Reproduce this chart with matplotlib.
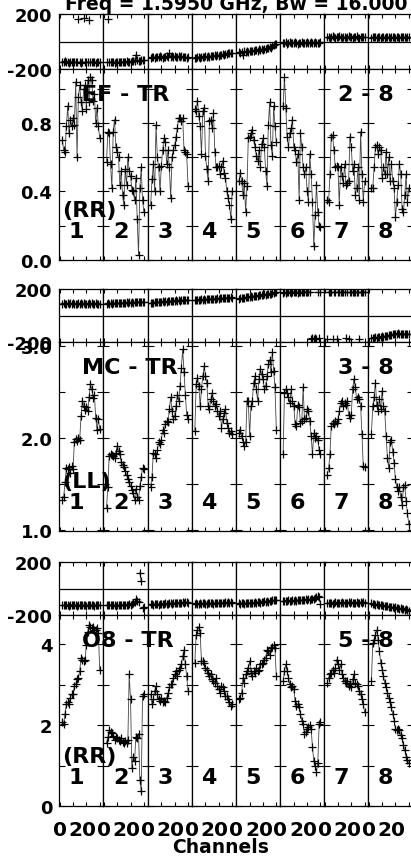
import numpy as np
import matplotlib.pyplot as plt
import matplotlib.transforms as mtransforms

plt.rcParams['font.family'] = 'DejaVu Sans'
plt.rcParams['font.weight'] = 'bold'

# channels plotted in every IF
chan = np.arange(2, 31)

# EF - TR (RR)
amp_ef = [
    [0.70, 0.64, 0.63, 0.78, 0.90, 0.74, 0.82, 0.78, 0.83, 0.79, 1.04, 0.60, 0.95, 1.02, 0.92, 0.87, 1.00, 1.02, 0.88, 1.05, 0.92, 1.07, 1.05, 0.93, 0.97, 0.80, 0.89, 0.78, 0.71],
    [0.57, 0.75, 0.74, 0.56, 0.42, 0.75, 0.82, 0.66, 0.63, 0.60, 0.44, 0.52, 0.38, 0.32, 0.53, 0.44, 0.60, 0.52, 0.49, 0.41, 0.40, 0.35, 0.48, 0.24, 0.03, 0.42, 0.54, 0.35, 0.28],
    [0.32, 0.47, 0.56, 0.40, 0.79, 0.60, 0.54, 0.40, 0.55, 0.64, 0.71, 0.69, 0.56, 0.64, 0.54, 0.36, 0.60, 0.64, 0.67, 0.72, 0.77, 0.83, 0.83, 0.81, 0.83, 0.64, 0.63, 0.62, 0.43],
    [0.88, 0.87, 0.93, 0.84, 0.78, 0.62, 0.87, 0.89, 0.61, 0.53, 0.46, 0.81, 0.82, 0.77, 0.86, 0.63, 0.54, 0.54, 0.55, 0.50, 0.54, 0.58, 0.51, 0.48, 0.40, 0.36, 0.32, 0.24, 0.40],
    [0.46, 0.51, 0.46, 0.38, 0.45, 0.28, 0.43, 0.71, 0.72, 0.74, 0.76, 0.70, 0.66, 0.61, 0.58, 0.64, 0.54, 0.68, 0.71, 0.66, 0.52, 0.43, 0.79, 0.92, 0.67, 0.61, 0.90, 0.78, 0.69],
    [0.90, 1.07, 0.89, 0.72, 0.66, 0.74, 0.77, 0.82, 0.66, 0.64, 0.57, 0.62, 0.35, 0.74, 0.66, 0.54, 0.50, 0.54, 0.40, 0.34, 0.62, 0.50, 0.34, 0.08, 0.26, 0.44, 0.28, 0.20, 0.19],
    [0.35, 0.34, 0.50, 0.72, 0.73, 0.64, 0.54, 0.55, 0.54, 0.32, 0.54, 0.49, 0.45, 0.56, 0.44, 0.45, 0.46, 0.72, 0.66, 0.52, 0.56, 0.38, 0.42, 0.54, 0.35, 0.75, 0.50, 0.34, 0.46],
    [0.42, 0.42, 0.54, 0.66, 0.67, 0.62, 0.66, 0.64, 0.48, 0.54, 0.50, 0.63, 0.50, 0.60, 0.46, 0.56, 0.46, 0.42, 0.25, 0.34, 0.44, 0.56, 0.50, 0.30, 0.28, 0.38, 0.50, 0.34, 0.42],
]
ph_ef = [
    [-148, -152, -145, -150, -147, -155, -150, -146, -152, -149, -151, -150, 164, -148, -153, -150, 168, -147, -151, -149, 160, -152, -148, -150, -146, -153, -150, -148, -151],
    [-150, 162, -148, -152, -147, -150, -153, -149, -146, -151, -150, -148, -152, -147, -150, -145, -149, -146, -148, -143, -145, -140, -95, -138, -142, -140, -135, -138, -132],
    [-118, -115, -112, -120, -110, -114, -116, -108, -112, -118, -110, -113, -106, -112, -82, -110, -108, -115, -104, -112, -110, -106, -114, -108, -112, -110, -115, -118, -112],
    [-118, -120, -115, -112, -118, -110, -114, -112, -108, -112, -105, -110, -106, -104, -108, -100, -102, -98, -104, -95, -98, -92, -95, -88, -90, -85, -82, -84, -80],
    [-78, -82, -75, -95, -72, -76, -70, -74, -68, -72, -66, -70, -64, -60, -66, -58, -62, -55, -60, -52, -56, -48, -50, -40, -44, -35, -28, -20, -15],
    [-8, -12, -5, -15, -10, -6, -14, -9, -12, -4, -10, -16, -8, -12, -6, -10, -14, -8, -5, -12, -10, -7, -13, -9, -4, -11, -8, -12, -6],
    [30, 36, 28, 34, 38, 32, 26, 35, 30, 40, 33, 29, 36, 31, 27, 34, 38, 30, 33, 28, 35, 31, 37, 29, 26, 33, 30, 35, 32],
    [28, 33, 35, 30, 26, 32, 36, 29, 31, 34, 27, 30, 35, 32, 28, 33, 30, 36, 29, 31, 34, 28, 32, 30, 35, 31, 27, 33, 30],
]

# MC - TR (LL)
amp_mc = [
    [1.33, 1.36, 1.52, 1.67, 1.66, 1.68, 1.62, 1.69, 1.66, 1.96, 1.99, 1.97, 2.00, 1.98, 2.24, 2.40, 2.35, 2.30, 2.33, 2.29, 2.44, 2.58, 2.53, 2.43, 2.47, 2.22, 2.09, 2.20, 2.10],
    [1.24, 1.47, 1.80, 1.83, 1.81, 1.80, 1.78, 1.84, 1.91, 1.86, 1.82, 1.74, 1.71, 1.68, 1.64, 1.60, 1.55, 1.52, 1.48, 1.44, 1.40, 1.33, 1.45, 1.36, 1.33, 1.48, 1.58, 1.67, 1.66],
    [1.47, 1.58, 1.84, 1.82, 1.78, 1.87, 1.95, 1.93, 1.98, 2.09, 2.05, 2.15, 2.18, 2.17, 2.31, 2.44, 2.29, 2.20, 2.24, 2.35, 2.47, 2.40, 2.56, 2.76, 2.96, 2.71, 2.47, 2.25, 2.20],
    [2.07, 2.58, 2.65, 2.56, 2.35, 2.53, 2.67, 2.78, 2.67, 2.60, 2.35, 2.31, 2.42, 2.49, 2.40, 2.35, 2.37, 2.29, 2.24, 2.29, 2.11, 2.20, 2.27, 2.31, 2.16, 2.11, 2.05, 2.07, 2.04],
    [2.05, 2.09, 2.02, 1.96, 1.91, 1.95, 2.40, 2.40, 2.02, 2.35, 2.40, 2.60, 2.67, 2.53, 2.40, 2.64, 2.75, 2.69, 2.64, 2.53, 2.56, 2.67, 2.80, 2.85, 2.71, 2.93, 2.73, 2.55, 2.09],
    [1.82, 2.49, 2.53, 2.49, 2.44, 2.38, 2.53, 2.40, 2.35, 2.15, 2.13, 2.36, 2.33, 2.16, 2.18, 2.55, 2.20, 2.22, 2.31, 2.29, 2.18, 2.02, 1.82, 2.05, 2.00, 2.02, 1.98, 1.87, 1.82],
    [1.60, 1.67, 1.82, 2.13, 2.16, 2.15, 2.18, 2.16, 2.20, 2.29, 2.38, 2.40, 2.35, 2.38, 2.36, 2.40, 2.25, 2.22, 2.25, 2.53, 2.64, 2.55, 2.42, 2.44, 2.42, 2.35, 2.04, 1.69, 1.68],
    [2.04, 2.35, 2.44, 2.60, 2.36, 2.29, 2.42, 2.31, 2.51, 2.35, 2.29, 2.02, 1.78, 1.67, 1.95, 1.98, 1.85, 1.73, 1.55, 1.47, 1.42, 1.47, 1.36, 1.27, 1.47, 1.49, 1.31, 1.18, 1.07],
]
ph_mc = [
    [88, 92, 85, 90, 94, 87, 91, 86, 93, 89, 90, 84, 92, 88, 91, 87, 95, 89, 86, 90, 93, 88, 91, 85, 89, 92, 87, 90, 88],
    [88, 92, 90, 94, 89, 93, 91, 95, 92, 96, 93, 97, 94, 98, 95, 99, 96, 100, 97, 101, 98, 102, 99, 100, 103, 101, 104, 100, 102],
    [95, 98, 96, 100, 99, 103, 101, 104, 102, 106, 105, 108, 104, 109, 107, 110, 108, 112, 111, 114, 110, 115, 113, 117, 114, 118, 116, 119, 117],
    [114, 118, 116, 120, 117, 121, 119, 123, 120, 124, 122, 126, 123, 127, 125, 128, 126, 130, 127, 131, 129, 132, 130, 134, 131, 135, 133, 136, 134],
    [128, 132, 130, 135, 133, 138, 136, 141, 139, 144, 142, 147, 145, 150, 148, 153, 151, 156, 154, 159, 157, 162, 160, 165, 163, 168, 170, 174, 176],
    [172, 175, 170, 177, 174, 178, 173, 176, 179, 175, 177, 172, 176, 178, 174, 177, 175, 179, 176, 178, 177, -176, -172, -175, -170, -174, 178, -172, 176],
    [-176, 178, 176, 179, -174, 177, 180, -178, 179, 177, 176, 178, 179, 177, -173, 178, -175, 176, 179, 177, 178, 175, 176, 179, -177, 177, 178, 176, 179],
    [-172, -168, -170, -165, -167, -162, -164, -160, -158, -161, -156, -153, -155, -150, -148, -145, -142, -140, -137, -139, -135, -138, -140, -136, -142, -139, -141, -138, -140],
]

# O8 - TR (RR)
amp_o8 = [
    [2.07, 2.03, 2.28, 2.52, 2.56, 2.52, 2.68, 2.76, 2.76, 2.97, 3.01, 3.13, 3.17, 3.33, 3.66, 3.62, 3.58, 3.62, 3.98, 4.31, 4.47, 4.43, 4.39, 4.43, 4.35, 4.35, 4.39, 4.27, 3.37],
    [1.55, 1.71, 1.87, 1.84, 1.80, 1.72, 1.63, 1.71, 1.67, 1.63, 1.60, 1.67, 1.59, 1.55, 1.60, 1.56, 1.62, 3.25, 2.64, 0.93, 1.22, 1.10, 1.71, 1.67, 1.79, 0.65, 0.37, 2.72, 2.76],
    [2.76, 2.52, 2.64, 2.85, 2.97, 2.76, 2.64, 2.60, 2.68, 2.56, 2.60, 2.56, 2.68, 2.80, 2.93, 3.01, 3.01, 3.17, 3.25, 3.33, 3.21, 3.37, 3.41, 3.50, 3.70, 3.86, 3.50, 3.21, 2.85],
    [3.54, 4.23, 4.35, 4.43, 4.27, 3.58, 3.58, 3.54, 3.41, 3.37, 3.29, 3.21, 3.25, 3.13, 3.09, 3.05, 3.17, 2.97, 2.89, 2.80, 2.97, 2.93, 2.85, 2.72, 2.72, 2.64, 2.56, 2.48, 2.52],
    [2.64, 2.68, 2.80, 3.17, 3.05, 3.25, 3.33, 3.41, 3.58, 3.29, 3.21, 3.33, 3.29, 3.41, 3.33, 3.37, 3.50, 3.50, 3.54, 3.62, 3.66, 3.86, 3.82, 3.74, 3.90, 3.94, 3.98, 3.90, 3.21],
    [3.09, 3.33, 3.50, 3.33, 3.17, 3.01, 2.93, 2.97, 2.89, 2.60, 2.48, 2.52, 2.44, 2.28, 2.11, 2.03, 1.79, 1.83, 1.91, 1.95, 1.99, 1.91, 1.46, 1.10, 0.98, 0.85, 1.06, 2.03, 2.07],
    [3.05, 3.17, 3.25, 3.29, 3.37, 3.29, 3.41, 3.62, 3.50, 3.37, 3.50, 3.25, 3.17, 3.09, 3.05, 3.09, 2.97, 3.01, 2.93, 3.13, 3.25, 3.05, 3.01, 2.97, 2.85, 2.76, 2.64, 2.52, 2.32],
    [3.09, 4.02, 4.10, 4.23, 4.35, 4.10, 3.82, 3.54, 3.37, 3.21, 3.05, 2.93, 2.80, 2.68, 2.56, 2.44, 2.28, 2.11, 1.91, 1.87, 1.91, 1.87, 1.75, 1.67, 1.50, 1.38, 1.22, 1.14, 1.06],
]
ph_o8 = [
    [-125, -128, -122, -127, -124, -130, -126, -121, -128, -125, -123, -129, -126, -124, -127, -122, -128, -125, -130, -124, -126, -123, -127, -125, -129, -122, -126, -128, -124],
    [-126, -124, -128, -125, -127, -123, -126, -129, -124, -127, -125, -122, -126, -128, -124, -121, -125, -118, -122, -115, -110, -100, -83, -95, -105, 120, 53, -150, -140],
    [-120, -118, -122, -116, -119, -115, -121, -117, -114, -118, -116, -112, -115, -119, -113, -110, -114, -111, -108, -112, -109, -106, -110, -107, -104, -108, -105, -102, -106],
    [-115, -112, -118, -114, -111, -116, -113, -110, -114, -117, -112, -109, -113, -110, -115, -111, -108, -112, -109, -106, -110, -107, -111, -105, -108, -104, -107, -103, -106],
    [-110, -114, -108, -112, -116, -111, -107, -113, -109, -112, -106, -110, -104, -108, -105, -102, -106, -100, -103, -98, -101, -96, -99, -94, -92, -88, -90, -85, -87],
    [-96, -92, -98, -94, -90, -95, -91, -88, -93, -89, -92, -87, -90, -86, -89, -84, -88, -83, -86, -80, -84, -78, -82, -76, -72, -65, -58, -62, -120],
    [-108, -112, -106, -110, -114, -109, -105, -111, -107, -113, -108, -104, -110, -106, -112, -107, -103, -109, -105, -111, -106, -108, -104, -110, -107, -103, -109, -105, -108],
    [-112, -118, -115, -121, -119, -125, -122, -128, -126, -131, -129, -135, -133, -138, -136, -142, -140, -145, -143, -149, -147, -152, -150, -156, -154, -160, -158, -164, -168],
]

baselines = ['EF - TR', 'MC - TR', 'O8 - TR']
pols = ['(RR)', '(LL)', '(RR)']
sources = ['2 - 8', '3 - 8', '5 - 8']
amps = [amp_ef, amp_mc, amp_o8]
phases = [ph_ef, ph_mc, ph_o8]
amp_lims = [(0, 1.115), (0.99, 3.04), (0, 4.72)]
amp_ticks = [np.arange(0, 1.01, 0.2), np.arange(1.0, 3.01, 0.5), np.arange(0, 4.1, 1)]
amp_labels = [{0.0: '0.0', 0.4: '0.4', 0.8: '0.8'}, {1.0: '1.0', 2.0: '2.0', 3.0: '3.0'},
              {0.0: '0', 2.0: '2', 4.0: '4'}]

W, H = 411.0, 862.0
fig = plt.figure(figsize=(W / 100, H / 100), dpi=100)

x_left = 59.3
if_w = 44.15
# (phase top, phase bottom, amp bottom) in pixels
rows = [(15, 70, 261), (290, 343, 532), (563, 616, 807)]

fs = 13
# the "20" channel label sits a little left of its tick in the original plot
shift20 = mtransforms.ScaledTranslation(-4 / 100, 0, fig.dpi_scale_trans)


def px_box(x0, top, w, h):
    return [x0 / W, 1 - (top + h) / H, w / W, h / H]


def break_wraps(x, y):
    y = np.asarray(y, float)
    idx = np.where(np.abs(np.diff(y)) > 180)[0] + 1
    return np.insert(x.astype(float), idx, np.nan), np.insert(y, idx, np.nan)


for r in range(3):
    ptop, pbot, abot = rows[r]
    for k in range(8):
        x0 = x_left + k * if_w
        # phase panel
        axp = fig.add_axes(px_box(x0, ptop, if_w, pbot - ptop))
        xs, ys = break_wraps(chan, phases[r][k])
        axp.plot(xs, ys, '-', color='#444444', lw=0.6)
        axp.plot(chan, phases[r][k], '+', color='k', ms=5.5, mew=0.9)
        axp.axhline(0, color='k', lw=0.9)
        axp.set_ylim(-200, 200)
        axp.set_xlim(-0.3, 32.8)
        axp.set_xticks([0, 10, 20, 30])
        axp.set_xticklabels([])
        axp.set_yticks([-200, 200])
        axp.tick_params(direction='in', top=True, right=True, length=3, width=0.8, pad=5)
        if k == 0:
            axp.set_yticklabels(['-200', '200'], fontsize=fs, fontweight='bold')
        else:
            axp.set_yticklabels([])

        # amplitude panel
        axa = fig.add_axes(px_box(x0, pbot, if_w, abot - pbot))
        axa.plot(chan, amps[r][k], '-', color='#444444', lw=0.6)
        axa.plot(chan, amps[r][k], '+', color='k', ms=5.5, mew=0.9)
        axa.set_ylim(*amp_lims[r])
        axa.set_xlim(-0.3, 32.8)
        axa.set_xticks([0, 10, 20, 30])
        axa.set_yticks(amp_ticks[r])
        axa.tick_params(axis='x', direction='in', top=True, length=3, width=0.8, pad=10)
        axa.tick_params(axis='y', direction='in', right=True, length=4, width=0.8, pad=5)
        if k == 0:
            axa.set_yticklabels([amp_labels[r].get(round(v, 1), '') for v in amp_ticks[r]],
                                fontsize=fs, fontweight='bold')
        else:
            axa.set_yticklabels([])
        if r == 2:
            axa.set_xticklabels(['0', '', '20', ''], fontsize=14.5, fontweight='bold')
            labs = axa.xaxis.get_majorticklabels()
            labs[2].set_transform(labs[2].get_transform() + shift20)
        else:
            axa.set_xticklabels([])
        for ax in (axp, axa):
            for s in ax.spines.values():
                s.set_linewidth(0.9)

        # IF number
        fig.text((x0 + 9.5) / W, 1 - (abot - 28.5) / H, str(k + 1), ha='left', va='center',
                 fontsize=16, fontweight='bold')

    fig.text(82 / W, 1 - (pbot + 25) / H, baselines[r], ha='left', va='center',
             fontsize=16, fontweight='bold')
    fig.text(366 / W, 1 - (pbot + 25) / H, sources[r], ha='center', va='center',
             fontsize=16, fontweight='bold')
    fig.text(62 / W, 1 - (abot - 50) / H, pols[r], ha='left', va='center',
             fontsize=16, fontweight='bold')

fig.text(65 / W, 1 - 9.5 / H, 'Freq = 1.5950 GHz, Bw = 16.000 MHz', ha='left', va='baseline',
         fontsize=13.5, fontweight='bold')
fig.text(221 / W, 1 - 848 / H, 'Channels', ha='center', va='center', fontsize=13.5,
         fontweight='bold')

fig.savefig('out.png', dpi=100)
